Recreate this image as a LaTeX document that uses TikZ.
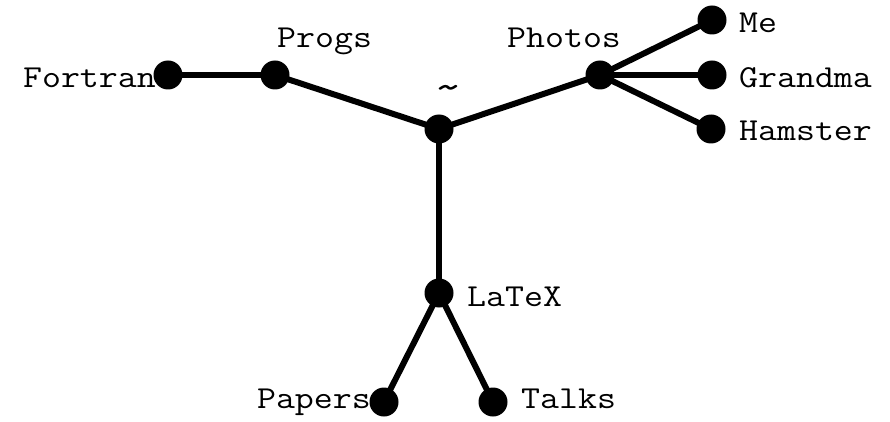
\documentclass[tikz,border=0pt]{standalone}
\usetikzlibrary{backgrounds}
\newcommand{\stretchlbl}[1]{\scalebox{1.15}[1]{#1}}
\begin{document}
\begin{tikzpicture}[x=1pt,y=-1pt,
  dot/.style={circle,fill=black,inner sep=0pt,minimum size=29pt},
  lbl/.style={inner sep=0pt,font=\ttfamily\fontsize{32}{36}\selectfont},
  edge/.style={line width=6pt}]
\useasboundingbox (0,0) rectangle (890,422);
\node[dot] (home) at (439,129) {};
\node[dot] (progs) at (275,75) {};
\node[dot] (fortran) at (168,75) {};
\node[dot] (photos) at (600,75) {};
\node[dot] (me) at (712,20) {};
\node[dot] (grandma) at (712,75) {};
\node[dot] (hamster) at (711,129) {};
\node[dot] (latex) at (439,293) {};
\node[dot] (papers) at (384,402) {};
\node[dot] (talks) at (493,402) {};
\begin{scope}[on background layer]
\draw[edge] (home.center) -- (progs.center);
\draw[edge] (progs.center) -- (fortran.center);
\draw[edge] (home.center) -- (photos.center);
\draw[edge] (photos.center) -- (me.center);
\draw[edge] (photos.center) -- (grandma.center);
\draw[edge] (photos.center) -- (hamster.center);
\draw[edge] (home.center) -- (latex.center);
\draw[edge] (latex.center) -- (papers.center);
\draw[edge] (latex.center) -- (talks.center);
\end{scope}
\node[lbl,anchor=base east] (tf) at (156,88) {\stretchlbl{Fortran}};
\node[lbl,anchor=base west] (tp) at (277,48) {\stretchlbl{Progs}};
\node[lbl,anchor=base west] (tph) at (507,48) {\stretchlbl{Photos}};
\node[lbl,anchor=center] (th) at (449,93) {\scalebox{1.7}[1.3]{\string~}};
\node[lbl,anchor=base west] (tme) at (739,33) {\stretchlbl{Me}};
\node[lbl,anchor=base west] (tg) at (739,88) {\stretchlbl{Grandma}};
\node[lbl,anchor=base west] (tha) at (739,141) {\stretchlbl{Hamster}};
\node[lbl,anchor=base west] (tl) at (467,306) {\stretchlbl{LaTeX}};
\node[lbl,anchor=base east] (tpa) at (371,408) {\stretchlbl{Papers}};
\node[lbl,anchor=base west] (tt) at (521,408) {\stretchlbl{Talks}};
\end{tikzpicture}
\end{document}
